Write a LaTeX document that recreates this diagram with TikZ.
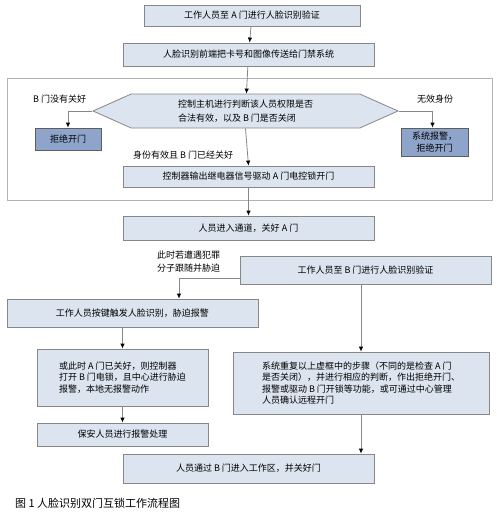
\documentclass[tikz,border=0pt]{standalone}
\usepackage{fontspec}
\setmainfont{Noto Sans CJK SC}
\usetikzlibrary{arrows.meta,shapes.symbols}
\definecolor{boxfill}{RGB}{220,228,240}
\definecolor{darkfill}{RGB}{142,164,202}
\definecolor{edge}{RGB}{135,135,135}
\begin{document}
\begin{tikzpicture}[x=1pt,y=-1pt,>={Latex[length=5pt,width=4.5pt,color=black]},
  box/.style={draw=edge,fill=boxfill,line width=0.8pt,inner sep=2pt,font=\fontsize{9}{11.5}\selectfont},
  darkbox/.style={box,fill=darkfill,draw=edge!70!black},
  lbl/.style={inner sep=0pt,font=\fontsize{9}{13}\selectfont},
  link/.style={->,draw=edge,line width=0.8pt}]
\useasboundingbox (0,0) rectangle (497,512);
% dashed frame of the A door check
\draw[color=gray!60,line width=0.8pt] (7,78) rectangle (492,200);
\node[box,minimum width=216pt,minimum height=21pt] (a1) at (252,15.5) {工作人员至 A 门进行人脸识别验证};
\node[box,minimum width=251pt,minimum height=23pt] (a2) at (248.5,54.5) {人脸识别前端把卡号和图像传送给门禁系统};
\node[box,shape=signal,signal to=west and east,signal pointer angle=48,
  minimum width=305pt,minimum height=34pt,align=left,font=\fontsize{9}{14}\selectfont] (judge) at (245.5,111)
  {控制主机进行判断该人员权限是否\\合法有效，以及 B 门是否关闭};
\node[darkbox,minimum width=66pt,minimum height=22pt] (r1) at (68,139) {拒绝开门};
\node[darkbox,minimum width=67pt,minimum height=28pt,align=center] (r2) at (434.5,142) {系统报警，\\拒绝开门};
\node[box,minimum width=251pt,minimum height=21pt] (a3) at (248.5,176.5) {控制器输出继电器信号驱动 A 门电控锁开门};
\node[box,minimum width=251pt,minimum height=24pt] (a4) at (248.5,228) {人员进入通道，关好 A 门};
\node[box,minimum width=251pt,minimum height=28pt] (b1) at (365.5,270) {工作人员至 B 门进行人脸识别验证};
\node[box,minimum width=251pt,minimum height=28pt] (c1) at (132.5,313) {工作人员按键触发人脸识别，胁迫报警};
\node[box,minimum width=171pt,minimum height=57pt,align=left] (c2) at (122.5,377.5)
  {或此时 A 门已关好，则控制器\\打开 B 门电锁，且中心进行胁迫\\报警，本地无报警动作};
\node[box,minimum width=171pt,minimum height=23pt] (c3) at (122.5,434.5) {保安人员进行报警处理};
\node[box,minimum width=256pt,minimum height=62pt,align=left] (b2) at (361,383)
  {系统重复以上虚框中的步骤（不同的是检查 A 门\\是否关闭），并进行相应的判断，作出拒绝开门、\\报警或驱动 B 门开锁等功能，或可通过中心管理\\人员确认远程开门};
\node[box,minimum width=251pt,minimum height=29pt] (a5) at (248.5,468.5) {人员通过 B 门进入工作区，并关好门};
% labels
\node[lbl,anchor=west] (l1) at (33,99) {B 门没有关好};
\node[lbl,anchor=west] (l2) at (417,99) {无效身份};
\node[lbl,anchor=west] (l3) at (133,155) {身份有效且 B 门已经关好};
\node[lbl,anchor=west,align=left] (l4) at (157,261.5) {此时若遭遇犯罪\\分子跟随并胁迫};
\node[anchor=west,inner sep=0pt,font=\fontsize{11}{13}\selectfont] (cap) at (15,503) {图 1 人脸识别双门互锁工作流程图};
% connectors
\draw[link] (a1) -- (a2);
\draw[link] (a2) -- (judge);
\draw[link] (judge.west) -| (r1.north);
\draw[link] (judge.east) -| ([xshift=-2pt]r2.north);
\draw[link] (judge.south) -- (a3.north);
\draw[link] (a3) -- (a4);
\draw[link] ([yshift=-8pt]b1.west) -| ([xshift=46.5pt]c1.north);
\draw[link] (c1.south -| c2.north) -- (c2.north);
\draw[link] (c2) -- (c3);
\draw[link] (b1.south -| b2.north) -- (b2.north);
\draw[link] (b2.south) -- (b2.south |- a5.north);
\end{tikzpicture}
\end{document}
